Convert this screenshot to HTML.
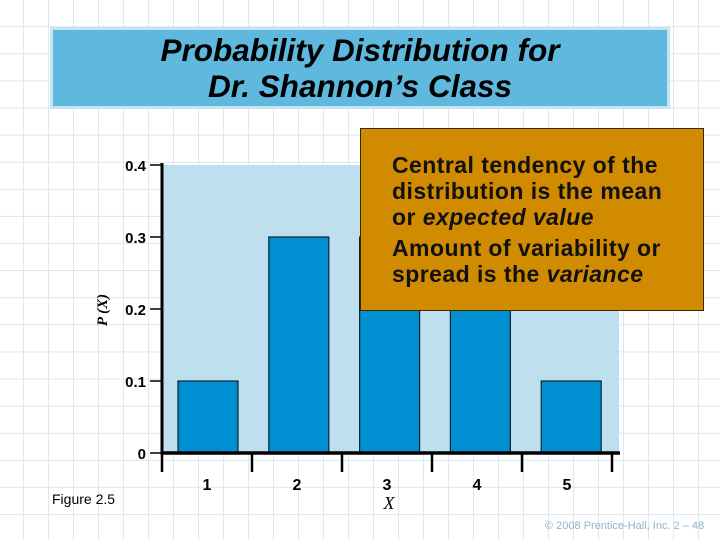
<!DOCTYPE html>
<html><head><meta charset="utf-8"><style>
body{margin:0;width:720px;height:540px;overflow:hidden;font-family:"Liberation Sans",sans-serif}
</style></head><body>
<svg width="720" height="540" xmlns="http://www.w3.org/2000/svg">
<defs><pattern id="g" x="-1" y="0" width="25" height="27.1" patternUnits="userSpaceOnUse">
<rect width="25" height="27.1" fill="#fff"/><path d="M25 0V27.1M0 27.1H25" stroke="#c9e1ec" stroke-width="1.4" fill="none"/></pattern></defs>
<rect width="720" height="540" fill="url(#g)"/>
<g>
<rect x="50" y="27" width="620" height="82" fill="#c4e4f2"/>
<rect x="53" y="30" width="614" height="76" fill="#5fb9df"/>
<text x="360" y="61" text-anchor="middle" font-size="31.5" font-weight="bold" font-style="italic">Probability Distribution for</text>
<text x="360" y="97" text-anchor="middle" font-size="31.5" font-weight="bold" font-style="italic">Dr. Shannon’s Class</text>
</g>
<g id="chart"></g>
<g>
<rect x="360.5" y="128.5" width="343" height="182" fill="#d18b00" stroke="#3a2a00" stroke-width="1"/>
<g font-size="23" letter-spacing="0.45" font-weight="bold" fill="#111">
<text x="392" y="173">Central tendency of the</text>
<text x="392" y="199">distribution is the mean</text>
<text x="392" y="225">or <tspan font-style="italic">expected value</tspan></text>
<text x="392" y="256">Amount of variability or</text>
<text x="392" y="282">spread is the <tspan font-style="italic">variance</tspan></text>
</g></g>
<text x="52" y="504" font-size="14">Figure 2.5</text>
<text x="545" y="529" font-size="11" fill="#8fb4c8">© 2008 Prentice-Hall, Inc.    2 – 48</text>
</svg>
<script>
const categories=["1","2","3","4","5"];
const probs=[0.1,0.3,0.3,0.2,0.1];
const yTicks=[0,0.1,0.2,0.3,0.4];
const yTickLabels=["0","0.1","0.2","0.3","0.4"];
const NS="http://www.w3.org/2000/svg";
const g=document.getElementById('chart');
const x0=162,step=90,barStep=90.8,y0=453,yScale=v=>y0-v*720;
const xScale=i=>x0+step*i+step/2;
const barCenter=i=>208+barStep*i;
function mk(t,a,txt){const e=document.createElementNS(NS,t);for(const k in a)e.setAttribute(k,a[k]);if(txt!==undefined)e.textContent=txt;g.appendChild(e);return e;}
let bg=mk('rect',{x:x0,y:yScale(0.4),width:457,height:y0-yScale(0.4),fill:'#bee0ee'});


probs.forEach((p,i)=>{const cx=barCenter(i);
const b=mk('rect',{x:cx-30,y:yScale(p),width:60,height:y0-yScale(p),fill:'#0090d2',stroke:'#0a2233','stroke-width':1.2});


const l=mk('text',{x:xScale(i),y:490,'text-anchor':'middle','font-size':16,'font-weight':'bold'},categories[i]);

});
for(let i=0;i<=categories.length;i++){const t=mk('line',{x1:x0+step*i,x2:x0+step*i,y1:y0,y2:472,stroke:'#000','stroke-width':2.5});

}
yTicks.forEach((v,i)=>{const t=mk('line',{x1:150,x2:162,y1:yScale(v),y2:yScale(v),stroke:'#000','stroke-width':1.5});


const l=mk('text',{x:146,y:yScale(v)+6,'text-anchor':'end','font-size':15,'font-weight':'bold'},yTickLabels[i]);

});
const ya=mk('line',{x1:x0,x2:x0,y1:yScale(0.4)-2,y2:y0+2,stroke:'#000','stroke-width':3});


const xa=mk('line',{x1:x0,x2:620,y1:y0,y2:y0,stroke:'#000','stroke-width':3.5});


const yt=mk('text',{x:0,y:0,transform:'translate(107,310) rotate(-90)','font-size':15,'font-style':'italic','font-weight':'bold','font-family':'Liberation Serif,serif','text-anchor':'middle'},'P (X)');


const xt=mk('text',{x:389,y:509,'font-size':18,'font-style':'italic','font-family':'Liberation Serif,serif','text-anchor':'middle'},'X');


</script>
</body></html>
